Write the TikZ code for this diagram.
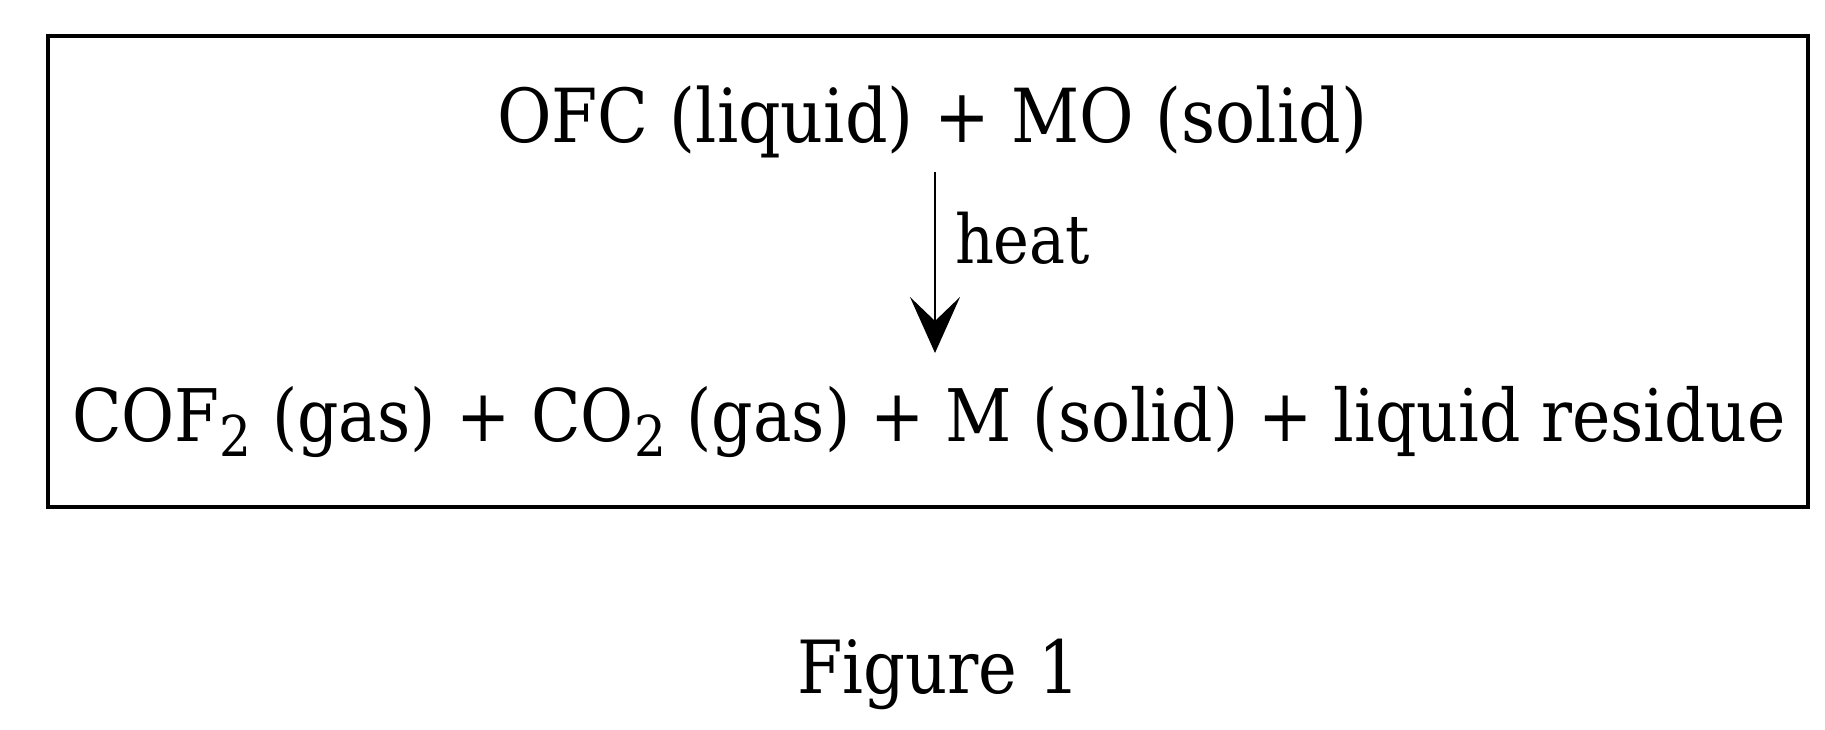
\documentclass[tikz,border=0pt]{standalone}
\usepackage{fontspec}
\setmainfont{DejaVu Serif}
\usetikzlibrary{arrows.meta}
\newcommand{\subtwo}{\raisebox{-0.4ex}{\fontsize{31}{32}\selectfont 2}}
\newcommand{\tallbox}[2]{\scalebox{1}[1.12]{\resizebox{#1}{!}{#2}}}
\begin{document}
\begin{tikzpicture}[x=0.5pt,y=-0.5pt,
  txt/.style={inner sep=0pt,outer sep=0pt,font=\fontsize{40}{48}\selectfont},
  frame/.style={line width=2.4pt},
  react/.style={line width=1.3pt,-{Stealth[length=28pt,width=25pt,inset=12pt]}}]
\useasboundingbox (0,0) rectangle (1825,729);
\draw[frame] (48,36) rectangle (1808,507);
\node[txt,anchor=base west] (reac) at (497,142)
  {\tallbox{435pt}{OFC (liquid) + MO (solid)}};
\node[txt,anchor=base west] (prod) at (72,441)
  {\tallbox{857pt}{COF\subtwo{} (gas) + CO\subtwo{} (gas) + M (solid) + liquid residue}};
\coordinate (as) at (935,172);
\coordinate (ae) at (935,353);
\draw[react] (as) -- (ae);
\node[txt,anchor=base west] (heat) at (955,263) {\tallbox{67.5pt}{heat}};
\node[txt,anchor=base west] (fig) at (797,693) {\tallbox{141.5pt}{Figure 1}};
\end{tikzpicture}
\end{document}
